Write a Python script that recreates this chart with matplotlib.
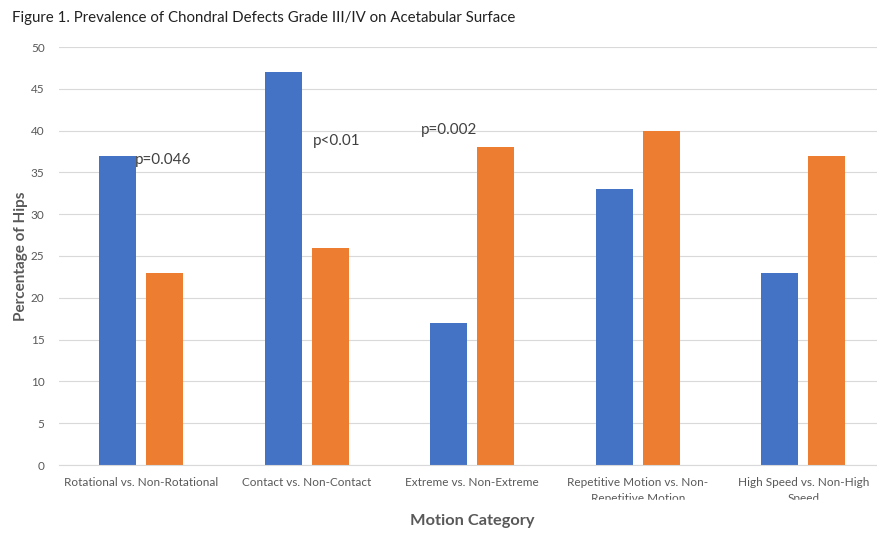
import matplotlib
matplotlib.use("Agg")
import matplotlib.pyplot as plt
import numpy as np

plt.rcParams['font.family'] = ['Lato', 'DejaVu Sans']

categories = ["Rotational vs. Non-Rotational", "Contact vs. Non-Contact",
              "Extreme vs. Non-Extreme", "Repetitive Motion vs. Non-\nRepetitive Motion",
              "High Speed vs. Non-High\nSpeed"]
group_a = [37, 47, 17, 33, 23]   # blue series
group_b = [23, 26, 38, 40, 37]   # orange series
p_labels = ["p=0.046", "p<0.01", "p=0.002"]
p_pos = [(-0.04, 36.5), (1.04, 38.7), (1.69, 40.1)]

fig = plt.figure(figsize=(8.77, 5.33), dpi=100)
ax = fig.add_axes([58.5/877, 1 - 465/533, 827.5/877, 418/533])

x = np.arange(len(categories))
w = 0.224
ax.bar(x - 0.142, group_a, w, color="#4472C4", zorder=2)
ax.bar(x + 0.142, group_b, w, color="#ED7D31", zorder=2)

for t, (px, py) in zip(p_labels, p_pos):
    ax.text(px, py, t, fontsize=11, color="#404040", ha="left", va="center", zorder=3)

ax.set_ylim(0, 50)
ax.set_xlim(-0.5, 4.5)
ax.set_yticks(range(0, 51, 5))
ax.yaxis.grid(True, color="#d9d9d9", linewidth=0.8, zorder=0)
ax.set_xticks(x)
ax.set_xticklabels(categories, fontsize=8.5, color="#595959", linespacing=1.5)
ax.tick_params(axis="y", labelsize=8.5, labelcolor="#595959", length=0, pad=10)
ax.tick_params(axis="x", length=0, pad=9)
for s in ["top", "right", "left"]:
    ax.spines[s].set_visible(False)
ax.spines["bottom"].set_color("#d9d9d9")

ax.set_ylabel("Percentage of Hips", fontsize=11, fontweight="bold", color="#595959", labelpad=2)
fig.text(472/877, 1 - 521/533, "Motion Category", fontsize=11.8, fontweight="bold",
         color="#595959", ha="center", va="center")
fig.text(12/877, 1 - 18/533, "Figure 1. Prevalence of Chondral Defects Grade III/IV on Acetabular Surface",
         fontsize=10.8, color="#222222", ha="left", va="center")

# second line of the long tick labels is cut off
fig.patches.append(plt.Rectangle((0, 1 - 507/533), 1, 7/533, transform=fig.transFigure,
                                 color="white", zorder=10))

fig.savefig("out.png", dpi=100)
